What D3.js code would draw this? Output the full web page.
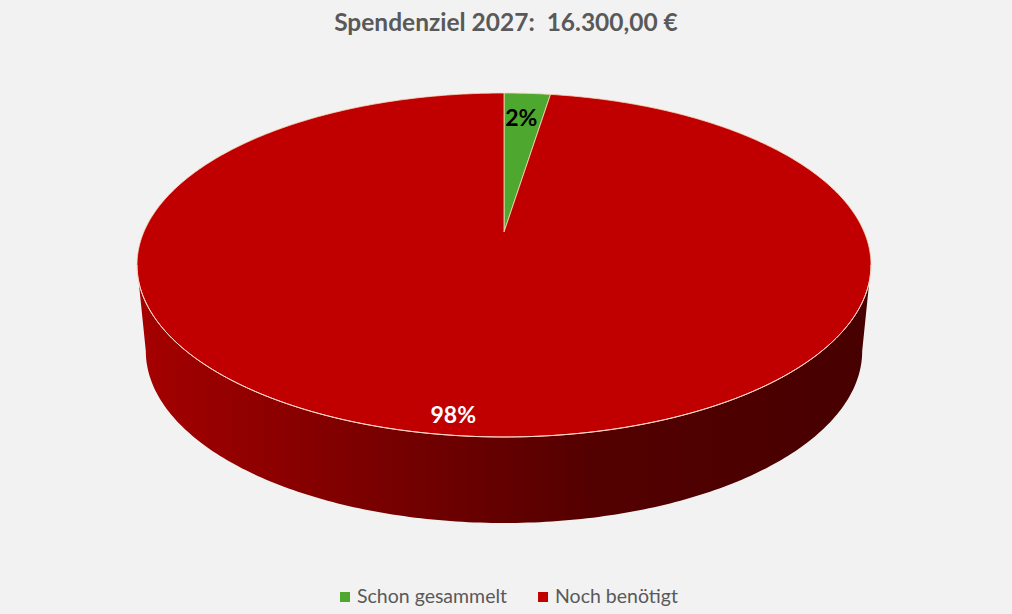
<!DOCTYPE html>
<html>
<head>
<meta charset="utf-8">
<script src="https://cdn.jsdelivr.net/npm/d3@7"></script>
<style>
  html, body { margin: 0; padding: 0; background: #f2f2f2; }
  svg { display: block; font-family: Lato, "Open Sans", sans-serif; }
</style>
</head>
<body>
<div id="chart"></div>
<script>
// data
const title = 'Spendenziel 2027:  16.300,00 €';
const categories = ['Schon gesammelt', 'Noch benötigt'];
const values = [400, 15900];
const colors = ['#4ea72e', '#c00000'];
const labelColors = ['#000000', '#ffffff'];

// label placement (fraction of radius, horizontal nudge)
const labelRadius = [0.8, 0.915];
const labelNudge = [-2, -20];

const width = 1012, height = 614;

// 3d pie geometry (perspective tilt)
const cx = 504,
      yFar = 93, yCenter = 232, yNear = 437,
      rxMax = 367,
      depth = 86,
      bottomScale = 0.976; // base looks a bit narrower in perspective

// projective mapping of the unit circle: v = -1 far edge, v = 1 near edge
// y = (a v + b) / (k v + 1)
const persp = (() => {
    const b = yCenter;
    const k = (2 * yCenter - yNear - yFar) / (yNear - yFar);
    const a = yNear * (1 + k) - b;
    // horizontal scale so widest point hits rxMax
    const s = rxMax * Math.sqrt(1 - k * k);
    return { a, b, k, s };
})();

function project(angle, r) {
    const u = r * Math.sin(angle), v = -r * Math.cos(angle);
    const den = 1 + persp.k * v;
    return [cx + persp.s * u / den, (persp.a * v + persp.b) / den];
}

const svg = d3.select('#chart').append('svg')
    .attr('width', width)
    .attr('height', height);

svg.append('rect')
    .attr('width', width)
    .attr('height', height)
    .style('fill', '#f2f2f2');

// side gradient
const defs = svg.append('defs');
const grad = defs.append('linearGradient')
    .attr('id', 'side-grad')
    .attr('x1', 0).attr('x2', 1).attr('y1', 0).attr('y2', 0);
[[0, '#a60000'], [0.35, '#760000'], [0.62, '#540000'], [1, '#470000']]
    .forEach(([o, col]) => grad.append('stop').attr('offset', o).attr('stop-color', col));

const pie = d3.pie().sort(null).value(d => d)(values);

const line = d3.line();

// side wall (front half, between horizontal extremes)
const extreme = Math.acos(persp.k); // angle where x is maximal
const front0 = extreme, front1 = 2 * Math.PI - extreme;
const sideTop = d3.range(0, 201).map(i => project(front0 + (front1 - front0) * i / 200, 1));
const sideBottom = sideTop.slice().reverse()
    .map(([x, y]) => [cx + (x - cx) * bottomScale, y + depth]);

svg.append('path')
    .attr('class', 'side')
    .attr('d', line(sideTop.concat(sideBottom)) + 'Z')
    .style('fill', 'url(#side-grad)');

// top slices
svg.selectAll('path.slice')
    .data(pie)
    .join('path')
    .attr('class', 'slice')
    .attr('d', d => {
        const n = Math.max(4, Math.ceil((d.endAngle - d.startAngle) * 80));
        const pts = [[cx, yCenter]].concat(
            d3.range(0, n + 1).map(i => project(d.startAngle + (d.endAngle - d.startAngle) * i / n, 1)));
        return line(pts) + 'Z';
    })
    .style('fill', (d, i) => colors[i])
    .style('stroke', '#f6d7b8')
    .style('stroke-width', 0.8)
    .style('stroke-linejoin', 'round');

// highlight where top meets side
svg.append('path')
    .attr('d', line(sideTop))
    .style('fill', 'none')
    .style('stroke', '#ffd9d0')
    .style('stroke-width', 1);

// data labels
const pct = d3.format('.0%');
const total = d3.sum(values);
svg.selectAll('text.label')
    .data(pie)
    .join('text')
    .attr('class', 'label')
    .attr('x', (d, i) => project((d.startAngle + d.endAngle) / 2, labelRadius[i])[0] + labelNudge[i])
    .attr('y', (d, i) => project((d.startAngle + d.endAngle) / 2, labelRadius[i])[1])
    .attr('dy', '0.36em')
    .attr('text-anchor', 'middle')
    .style('font-size', '23px')
    .style('font-weight', 'bold')
    .style('fill', (d, i) => labelColors[i])
    .text(d => pct(d.value / total));

// title
svg.append('text')
    .attr('x', 506)
    .attr('y', 31)
    .attr('text-anchor', 'middle')
    .style('font-size', '24.5px')
    .style('font-weight', 'bold')
    .style('fill', '#595959')
    .attr('xml:space', 'preserve')
    .text(title);

// legend
const legend = svg.append('g').attr('class', 'legend');
const items = legend.selectAll('g')
    .data(categories)
    .join('g');
items.append('rect')
    .attr('width', 10)
    .attr('height', 10)
    .attr('y', -11)
    .style('fill', (d, i) => colors[i]);
items.append('text')
    .attr('x', 17)
    .style('font-size', '19.5px')
    .style('fill', '#595959')
    .text(d => d);

let offset = 0;
items.each(function () {
    const w = 17 + d3.select(this).select('text').node().getComputedTextLength();
    d3.select(this).attr('transform', `translate(${offset},0)`);
    offset += w + 31;
});
offset -= 31;
legend.attr('transform', `translate(${509 - offset / 2},603)`);
</script>
</body>
</html>
